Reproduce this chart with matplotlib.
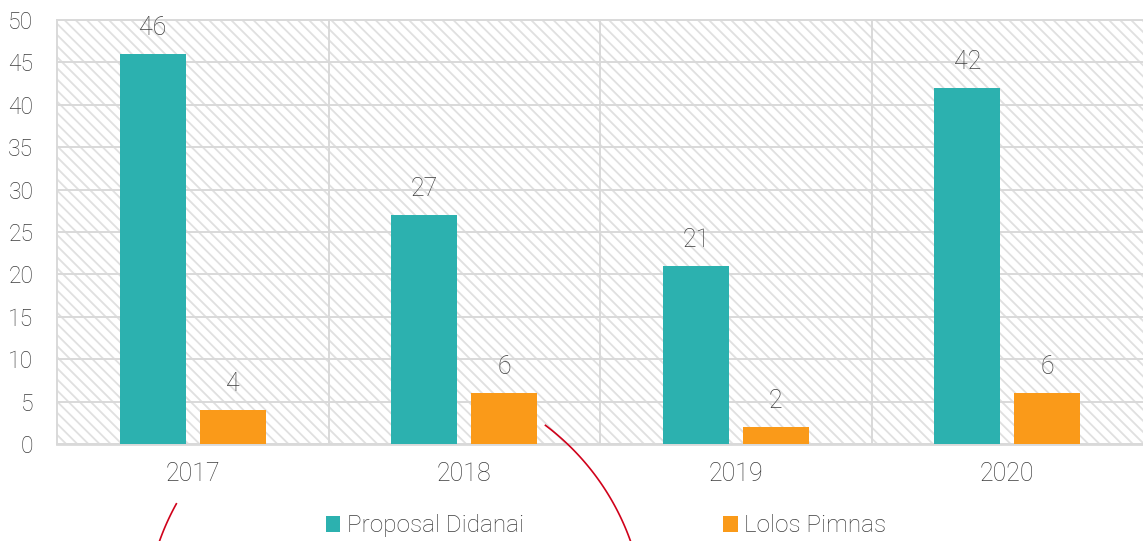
import numpy as np
import matplotlib
matplotlib.use('Agg')
import matplotlib.pyplot as plt
from matplotlib.patches import Rectangle

# chart data
years = ['2017', '2018', '2019', '2020']
proposal_didanai = [46, 27, 21, 42]
lolos_pimnas = [4, 6, 2, 6]
series_names = ['Proposal Didanai', 'Lolos Pimnas']
y_ticks = list(range(0, 55, 5))

teal = '#2CB1AF'
orange = '#FA9A19'
text_col = '#3c3c3c'
grid_col = '#d9d9d9'

plt.rcParams['font.family'] = ['Roboto', 'DejaVu Sans']
plt.rcParams['font.weight'] = 'light'
plt.rcParams['hatch.linewidth'] = 1.3

fig = plt.figure(figsize=(11.43, 5.41), dpi=100)
ax = fig.add_axes([0.0499, 0.1793, 0.9501, 0.7837])

# hatched background
bg = Rectangle((0, 0), 1, 1, transform=ax.transAxes, facecolor='white',
               edgecolor='#e0e0e0', hatch='\\\\\\', linewidth=0, zorder=0)
ax.add_patch(bg)

x = np.arange(len(years))
w = 0.243
off = 0.147
b1 = ax.bar(x - off, proposal_didanai, w, color=teal, label=series_names[0], zorder=3)
b2 = ax.bar(x + off, lolos_pimnas, w, color=orange, label=series_names[1], zorder=3)

for bars, vals in [(b1, proposal_didanai), (b2, lolos_pimnas)]:
    for r, v in zip(bars, vals):
        ax.annotate(str(v), (r.get_x() + r.get_width() / 2, v), xytext=(0, 10),
                    textcoords='offset points', ha='center', va='bottom',
                    fontsize=18, color=text_col, fontweight='light')

ax.set_xlim(-0.5, len(years) - 0.5)
ax.set_ylim(0, 50)
ax.set_yticks(y_ticks)
ax.set_xticks(x)
ax.set_xticklabels(years)
ax.set_xticks(x[:-1] + 0.5, minor=True)
ax.tick_params(axis='y', length=0, pad=17, labelsize=16.5, labelcolor=text_col)
ax.tick_params(axis='x', which='both', length=0, pad=13, labelsize=18, labelcolor=text_col)
ax.grid(axis='y', color=grid_col, lw=1.4, zorder=1)
ax.grid(axis='x', which='minor', color=grid_col, lw=1.4, zorder=1)
ax.set_axisbelow(True)
for s in ['top', 'left', 'bottom']:
    ax.spines[s].set_color(grid_col)
    ax.spines[s].set_linewidth(1.4)
ax.spines['bottom'].set_linewidth(2)
ax.spines['right'].set_visible(False)

fig.legend(handles=[b1, b2], loc='center', bbox_to_anchor=(0.53, 0.028), ncol=2,
           frameon=False, fontsize=17.5, handlelength=0.6, handleheight=0.6,
           handletextpad=0.25, columnspacing=8.2, labelcolor=text_col)

# decorative red arcs (pixel space overlay)
ov = fig.add_axes([0, 0, 1, 1], zorder=5)
ov.set_xlim(0, 1143)
ov.set_ylim(541, 0)
ov.axis('off')
cx, cy, rad = 395, 625, 250
for t1, t2 in [(53, 5), (151, 175)]:
    t = np.radians(np.linspace(t1, t2, 100))
    ov.plot(cx + rad * np.cos(t), cy - rad * np.sin(t), color='#D0021B', lw=1.2)

fig.savefig('out.png', dpi=100)
